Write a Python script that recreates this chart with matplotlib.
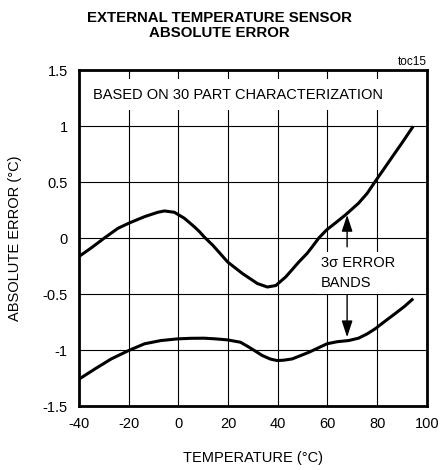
import matplotlib.pyplot as plt

plt.rcParams['font.family'] = ['Liberation Sans Narrow', 'Liberation Sans', 'DejaVu Sans']

# upper and lower 3-sigma error bands (temperature in °C, error in °C)
upper_temp = [-40, -35, -29.6, -24.3, -20, -13.6, -8.3, -5.6, -1.6, 2.4, 6.4, 8.5, 10.4, 13.8, 16.5,
              19.8, 25.8, 31.8, 35.8, 39.2, 43.2, 48.5, 51.8, 53.8, 56.5, 59.5, 63.5, 67.2, 72.5,
              76, 79.2, 82.5, 85.8, 90, 94.5]
upper_err = [-0.165, -0.087, 0.003, 0.087, 0.132, 0.191, 0.23, 0.242, 0.23, 0.177, 0.101, 0.057, 0.01,
             -0.063, -0.13, -0.213, -0.317, -0.406, -0.437, -0.424, -0.347, -0.213, -0.137, -0.08,
             0.0, 0.07, 0.14, 0.206, 0.311, 0.4, 0.505, 0.61, 0.716, 0.85, 0.998]

lower_temp = [-40, -33.6, -27, -20, -13.6, -7, -0.3, 5, 10.4, 15, 19.7, 25, 28.5, 33.8, 37,
              39.8, 42.5, 45.8, 52.5, 59.8, 64, 68.5, 72.5, 76, 79.2, 83, 87.2, 91, 94.5]
lower_err = [-1.26, -1.169, -1.079, -1.004, -0.944, -0.915, -0.9, -0.895, -0.894, -0.9, -0.909, -0.93,
             -0.975, -1.049, -1.08, -1.094, -1.09, -1.079, -1.02, -0.944, -0.925, -0.915, -0.894,
             -0.855, -0.81, -0.745, -0.675, -0.61, -0.541]

x_ticks = [-40, -20, 0, 20, 40, 60, 80, 100]
y_ticks = [-1.5, -1, -0.5, 0, 0.5, 1, 1.5]
y_tick_labels = ['-1.5', '-1', '-0.5', '0', '0.5', '1', '1.5']

fig = plt.figure(figsize=(4.41, 4.70), dpi=100)
ax = fig.add_axes([0.179, 0.136, 0.789, 0.715])

ax.set_xlim(-40, 100)
ax.set_ylim(-1.5, 1.5)
ax.set_xticks(x_ticks)
ax.set_yticks(y_ticks)
ax.set_xticklabels([str(t) for t in x_ticks])
ax.set_yticklabels(y_tick_labels)
ax.tick_params(length=0, labelsize=10.5, pad=8)
ax.grid(True, color='black', linewidth=0.8)
ax.set_axisbelow(True)
for s in ax.spines.values():
    s.set_linewidth(2.0)

ax.plot(upper_temp, upper_err, color='black', linewidth=2.2, solid_capstyle='butt',
        solid_joinstyle='round')
ax.plot(lower_temp, lower_err, color='black', linewidth=2.2, solid_capstyle='butt',
        solid_joinstyle='round')

ax.text(-34.4, 1.28, 'BASED ON 30 PART CHARACTERIZATION', fontsize=10.5,
        va='center', ha='left',
        bbox=dict(facecolor='white', edgecolor='none', pad=6))

ax.text(57.3, -0.31, '3σ ERROR\nBANDS', fontsize=10.5, va='center', ha='left',
        linespacing=1.5, bbox=dict(facecolor='white', edgecolor='none', pad=3))

arrow = dict(arrowstyle='-|>,head_length=1.0,head_width=0.33', color='black', lw=1.0,
             mutation_scale=10, shrinkA=0, shrinkB=0)
ax.annotate('', xy=(67.9, 0.206), xytext=(67.9, -0.078), arrowprops=arrow)
ax.annotate('', xy=(67.9, -0.885), xytext=(67.9, -0.511), arrowprops=arrow)

ax.text(1.0, 1.006, 'toc15', transform=ax.transAxes, fontsize=8.5,
        ha='right', va='bottom')

ax.set_xlabel('TEMPERATURE (°C)', fontsize=10.5, labelpad=14)
ax.set_ylabel('ABSOLUTE ERROR (°C)', fontsize=10.5, labelpad=15)

fig.text(0.497, 0.946, 'EXTERNAL TEMPERATURE SENSOR\nABSOLUTE ERROR',
         ha='center', va='center', fontsize=10.8, fontweight='bold', linespacing=1.15)

fig.savefig('out.png', dpi=100)
